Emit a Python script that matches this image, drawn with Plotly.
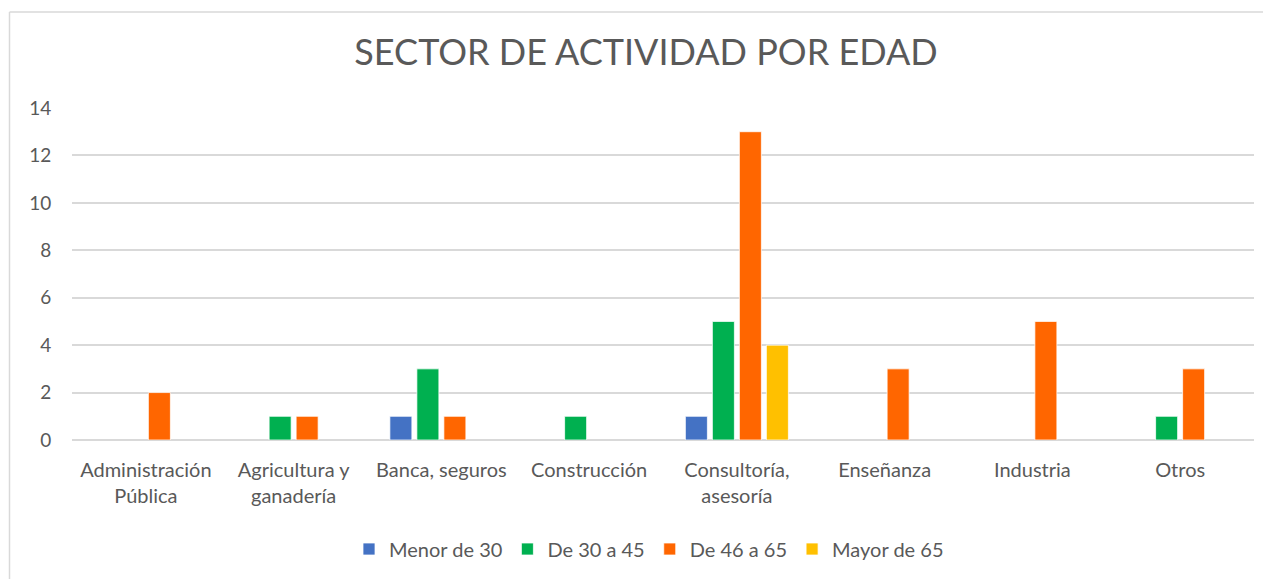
import plotly.graph_objects as go

categories = ["Administración Pública", "Agricultura y ganadería", "Banca, seguros",
              "Construcción", "Consultoría, asesoría", "Enseñanza", "Industria", "Otros"]
tick_labels = ["Administración<br>Pública", "Agricultura y<br>ganadería", "Banca, seguros",
               "Construcción", "Consultoría,<br>asesoría", "Enseñanza", "Industria", "Otros"]

series_names = ["Menor de 30", "De 30 a 45", "De 46 a 65", "Mayor de 65"]
menor_30 = [0, 0, 1, 0, 1, 0, 0, 0]
de_30_45 = [0, 1, 3, 1, 5, 0, 0, 1]
de_46_65 = [2, 1, 1, 0, 13, 3, 5, 3]
mayor_65 = [0, 0, 0, 0, 4, 0, 0, 0]
colors = ["#4472C4", "#00B050", "#FF6600", "#FFC000"]

W, H = 1271, 579
OFF = 8  # page body margin
L, R, T, B = 72 - OFF, 1254 - OFF, 108 - OFF, 440 - OFF

fig = go.Figure()
for name, vals, col in zip(series_names, [menor_30, de_30_45, de_46_65, mayor_65], colors):
    fig.add_trace(go.Bar(
        x=categories, y=[v if v else None for v in vals], name=name,
        marker=dict(color=col, line=dict(color="white", width=0.75)),
    ))

font = "Lato, 'Open Sans', sans-serif"
pw, ph = R - L, B - T
def px(x): return (x - OFF - L) / pw
def py(y): return (B - (y - OFF)) / ph

fig.update_layout(
    width=W, height=H,
    margin=dict(l=L, r=W - R, t=T, b=H - B, autoexpand=False),
    paper_bgcolor="white", plot_bgcolor="white",
    barmode="group", bargap=0.269, bargroupgap=0.185,
    title=dict(text="SECTOR DE ACTIVIDAD POR EDAD", x=(646 - OFF) / W, xanchor="center",
               y=1 - (52 - OFF) / H, yanchor="middle",
               font=dict(family=font, size=36, color="#595959")),
    font=dict(family=font, color="#595959"),
    xaxis=dict(tickmode="array", tickvals=categories, ticktext=tick_labels,
               tickfont=dict(size=20, color="#595959"), showgrid=False,
               showline=False, ticks="outside", ticklen=12, tickcolor="rgba(0,0,0,0)",
               tickangle=0, automargin=False),
    yaxis=dict(range=[0, 14], dtick=2, tickfont=dict(size=19, color="#595959"),
               gridcolor="#D9D9D9", gridwidth=1.5, zeroline=True,
               zerolinecolor="#D9D9D9", zerolinewidth=1.5, showline=False,
               ticks="outside", ticklen=16, tickcolor="rgba(0,0,0,0)", automargin=False),
    legend=dict(orientation="h", xref="container", x=(649 - OFF) / W, xanchor="center",
                yref="container", y=1 - (549 - OFF) / H, yanchor="middle",
                font=dict(size=20, color="#595959"), traceorder="normal"),
    showlegend=True,
    shapes=[
        dict(type="line", xref="paper", yref="paper", x0=px(9.5), x1=px(9.5),
             y0=py(12), y1=py(620), line=dict(color="#D9D9D9", width=1.5)),
        dict(type="line", xref="paper", yref="paper", x0=px(9.5), x1=px(1320),
             y0=py(12), y1=py(12), line=dict(color="#D9D9D9", width=1.5)),
    ],
)
fig.write_html("out.html")
